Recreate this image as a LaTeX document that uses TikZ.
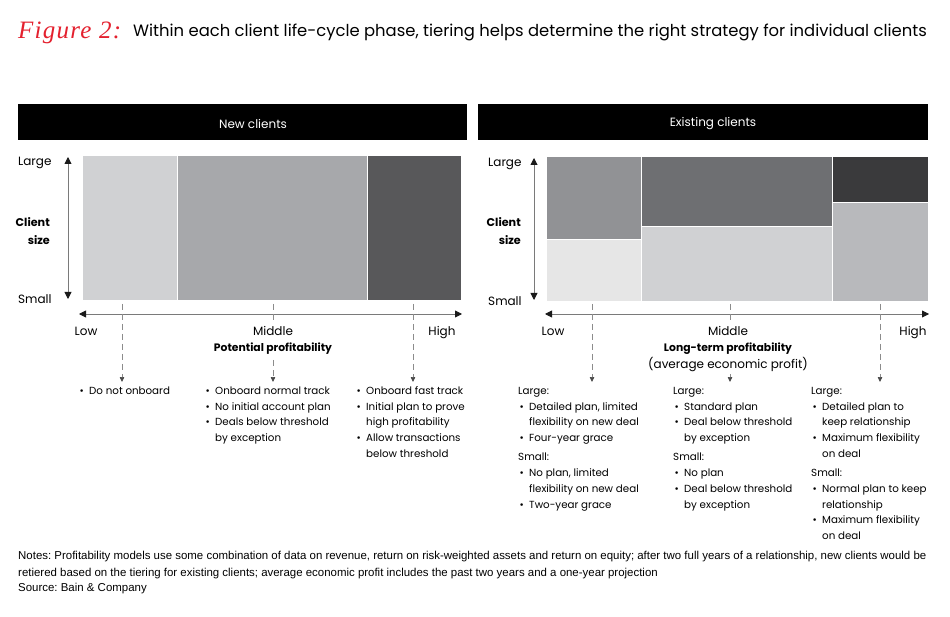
\documentclass[tikz,border=0pt]{standalone}
\usepackage{fontspec}
\setmainfont{Poppins}
\newfontfamily\figfont{Liberation Serif}
\newfontfamily\notefont{Liberation Sans}
\usetikzlibrary{arrows.meta}
\frenchspacing
\definecolor{figred}{HTML}{E4202E}
\definecolor{axisc}{HTML}{1A1A1A}
\definecolor{shaftc}{HTML}{7A7A7A}
\definecolor{dashc}{HTML}{8C8C8C}
\definecolor{ca}{HTML}{D0D1D3}
\definecolor{cb}{HTML}{A7A8AB}
\definecolor{cc}{HTML}{58585A}
\definecolor{cd}{HTML}{919295}
\definecolor{ce}{HTML}{E6E6E6}
\definecolor{cf}{HTML}{6E6F72}
\definecolor{cg}{HTML}{3A3A3C}
\definecolor{ch}{HTML}{B8B9BC}
\newcommand\bl{\makebox[11pt][l]{\hspace*{1.5pt}•}}
\newcommand\ind{\hspace*{11pt}}
\begin{document}
\begin{tikzpicture}[x=1pt,y=-1pt,
  txt/.style={inner sep=0pt,anchor=base west,font=\fontsize{10.3}{13}\selectfont},
  lab/.style={inner sep=0pt,anchor=base west,font=\fontsize{12}{13}\selectfont},
  ctxt/.style={inner sep=0pt,anchor=base,font=\fontsize{12}{13}\selectfont},
  btxt/.style={inner sep=0pt,anchor=base,font=\fontsize{10.8}{13}\selectfont\bfseries},
  rtxt/.style={inner sep=0pt,anchor=base east,font=\fontsize{11.2}{13}\selectfont\bfseries},
  hdr/.style={fill=black,draw=none,inner sep=0pt,minimum height=36pt},
  hdrtxt/.style={inner sep=0pt,text=white,font=\fontsize{12}{14}\selectfont},
  axisarrow/.style={draw=shaftc,line width=0.9pt,{Triangle[length=7pt,width=7pt,color=axisc]}-{Triangle[length=7pt,width=7pt,color=axisc]}},
  dasharrow/.style={draw=dashc,line width=0.7pt,dash pattern=on 6pt off 4pt,-{Triangle[length=5pt,width=4.5pt,color=axisc!80]}},
  dashline/.style={draw=dashc,line width=0.7pt,dash pattern=on 6pt off 4pt},
  note/.style={inner sep=0pt,anchor=base west,font=\fontsize{11.45}{13}\selectfont\notefont}]
\useasboundingbox[fill=white] (0,0) rectangle (950,617);

% Title
\node[inner sep=0pt,anchor=base west,text=figred,font=\fontsize{25}{28}\selectfont\figfont\itshape\addfontfeature{LetterSpace=5}] (fig) at (18,39) {Figure 2:};
\node[inner sep=0pt,anchor=base west,font=\fontsize{16.4}{19}\selectfont] (title) at (133,37) {Within each client life-cycle phase, tiering helps determine the right strategy for individual clients};

% Headers
\node[hdr,minimum width=449pt] (hnew) at (242.5,122) {};
\node[hdr,minimum width=450pt] (hex) at (702.5,122) {};
\node[hdrtxt] (hnewt) at (253,124) {New clients};
\node[hdrtxt] (hext) at (713,124) {Existing clients};

% Left chart
\fill[ca] (83,156) rectangle (177.5,300);
\fill[cb] (177.5,156) rectangle (367.5,300);
\fill[cc] (367.5,156) rectangle (461,300);
\draw[white,line width=0.8pt] (177.5,156) -- (177.5,300) (367.5,156) -- (367.5,300);

% Right chart
\fill[cd] (547,157) rectangle (641.5,239);
\fill[ce] (547,239) rectangle (641.5,301);
\fill[cf] (641.5,157) rectangle (832.5,226);
\fill[ca] (641.5,226) rectangle (832.5,301);
\fill[cg] (832.5,157) rectangle (928,202);
\fill[ch] (832.5,202) rectangle (928,301);
\draw[white,line width=0.8pt] (641.5,157) -- (641.5,301) (832.5,157) -- (832.5,301)
  (547,239) -- (641.5,239) (641.5,226) -- (832.5,226) (832.5,202) -- (928,202);

% Left axes
\coordinate (lvt) at (68,157);
\coordinate (lvb) at (68,299);
\draw[axisarrow] (lvt) -- (lvb);
\coordinate (lhl) at (79,314);
\coordinate (lhr) at (462,314);
\draw[axisarrow] (lhl) -- (lhr);
\node[lab] (llarge) at (18,166) {Large};
\node[rtxt] (lclient) at (50,227) {Client};
\node[rtxt] (lsize) at (50,245) {size};
\node[lab] (lsmall) at (18,304) {Small};
\node[ctxt] (llow) at (86,336) {Low};
\node[ctxt] (lmid) at (273,336) {Middle};
\node[ctxt] (lhigh) at (442,336) {High};
\node[btxt] (lpp) at (273,352) {Potential profitability};

% Right axes
\coordinate (rvt) at (534,158);
\coordinate (rvb) at (534,300);
\draw[axisarrow] (rvt) -- (rvb);
\coordinate (rhl) at (545,314);
\coordinate (rhr) at (929,314);
\draw[axisarrow] (rhl) -- (rhr);
\node[lab] (rlarge) at (488,167) {Large};
\node[rtxt] (rclient) at (521,227) {Client};
\node[rtxt] (rsize) at (521,245) {size};
\node[lab] (rsmall) at (488,306) {Small};
\node[ctxt] (rlow) at (553,336) {Low};
\node[ctxt] (rmid) at (728,336) {Middle};
\node[ctxt] (rhigh) at (913,336) {High};
\node[btxt] (rlp) at (728,352) {Long-term profitability};
\node[ctxt] (rae) at (728,368) {(average economic profit)};

% Dashed connectors, left
\coordinate (d1a) at (122,304); \coordinate (d1b) at (122,382);
\draw[dasharrow] (d1a) -- (d1b);
\coordinate (d2a) at (273,304); \coordinate (d2m) at (273,322);
\coordinate (d2n) at (273,360); \coordinate (d2b) at (273,382);
\draw[dashline] (d2a) -- (d2m);
\draw[dasharrow] (d2n) -- (d2b);
\coordinate (d3a) at (413,304); \coordinate (d3b) at (413,382);
\draw[dasharrow] (d3a) -- (d3b);

% Dashed connectors, right
\coordinate (e1a) at (592,304); \coordinate (e1b) at (592,382);
\draw[dasharrow] (e1a) -- (e1b);
\coordinate (e2a) at (730,304); \coordinate (e2m) at (730,321);
\coordinate (e2n) at (730,374); \coordinate (e2b) at (730,382);
\draw[dashline] (e2a) -- (e2m);
\draw[dasharrow] (e2n) -- (e2b);
\coordinate (e3a) at (880,304); \coordinate (e3b) at (880,382);
\draw[dasharrow] (e3a) -- (e3b);

% Left bullets
\node[txt] (a1) at (78,394) {\bl Do not onboard};
\node[txt] (b1) at (204,394) {\bl Onboard normal track};
\node[txt] (b2) at (204,410) {\bl No initial account plan};
\node[txt] (b3) at (204,425) {\bl Deals below threshold};
\node[txt] (b4) at (204,441) {\ind by exception};
\node[txt] (c1) at (355,394) {\bl Onboard fast track};
\node[txt] (c2) at (355,410) {\bl Initial plan to prove};
\node[txt] (c3) at (355,425) {\ind high profitability};
\node[txt] (c4) at (355,441) {\bl Allow transactions};
\node[txt] (c5) at (355,457) {\ind below threshold};

% Right bullets col 1
\node[txt] (p1) at (518,394) {Large:};
\node[txt] (p2) at (518,410) {\bl Detailed plan, limited};
\node[txt] (p3) at (518,425) {\ind flexibility on new deal};
\node[txt] (p4) at (518,441) {\bl Four-year grace};
\node[txt] (p5) at (518,460) {Small:};
\node[txt] (p6) at (518,476) {\bl No plan, limited};
\node[txt] (p7) at (518,492) {\ind flexibility on new deal};
\node[txt] (p8) at (518,508) {\bl Two-year grace};

% col 2
\node[txt] (q1) at (673,394) {Large:};
\node[txt] (q2) at (673,410) {\bl Standard plan};
\node[txt] (q3) at (673,425) {\bl Deal below threshold};
\node[txt] (q4) at (673,441) {\ind by exception};
\node[txt] (q5) at (673,460) {Small:};
\node[txt] (q6) at (673,476) {\bl No plan};
\node[txt] (q7) at (673,492) {\bl Deal below threshold};
\node[txt] (q8) at (673,508) {\ind by exception};

% col 3
\node[txt] (s1) at (811,394) {Large:};
\node[txt] (s2) at (811,410) {\bl Detailed plan to};
\node[txt] (s3) at (811,425) {\ind keep relationship};
\node[txt] (s4) at (811,441) {\bl Maximum flexibility};
\node[txt] (s5) at (811,457) {\ind on deal};
\node[txt] (s6) at (811,476) {Small:};
\node[txt] (s7) at (811,492) {\bl Normal plan to keep};
\node[txt] (s8) at (811,508) {\ind relationship};
\node[txt] (s9) at (811,523) {\bl Maximum flexibility};
\node[txt] (s10) at (811,539) {\ind on deal};

% Notes
\node[note] (n1) at (18,559) {Notes: Profitability models use some combination of data on revenue, return on risk-weighted assets and return on equity; after two full years of a relationship, new clients would be};
\node[note] (n2) at (18,576) {retiered based on the tiering for existing clients; average economic profit includes the past two years and a one-year projection};
\node[note] (n3) at (18,591) {Source: Bain \& Company};
\end{tikzpicture}
\end{document}
